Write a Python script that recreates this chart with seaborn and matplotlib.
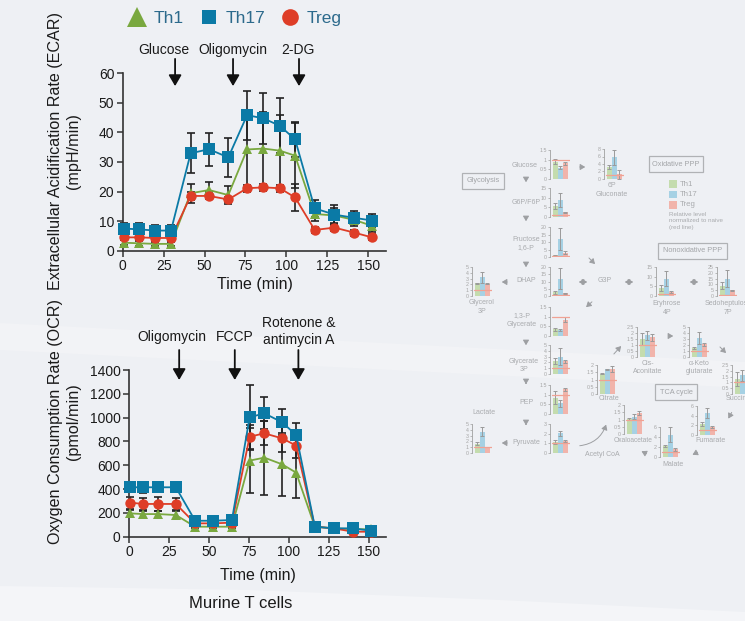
import matplotlib
matplotlib.use("Agg")
import matplotlib.pyplot as plt
import numpy as np
import pandas as pd
import seaborn as sns
from matplotlib.lines import Line2D
from matplotlib.patches import Polygon, FancyArrowPatch, Rectangle

# ---------------- data ----------------
cells = ["Th1", "Th17", "Treg"]

ecar_time = [0.5, 10, 20, 29.5, 41.5, 52.7, 64.5, 76, 86, 96, 105.3, 117.3, 129.3, 141.5, 152.3]
ecar_th1 = [2.7, 2.5, 2.3, 2.3, 19.4, 20.5, 18.8, 34.2, 34.5, 33.8, 32.1, 12.4, 11.9, 10.4, 8.4]
ecar_th1_err = [0.8, 0.8, 0.8, 0.8, 3.3, 2.8, 3.0, 13.0, 12.5, 12.0, 11.0, 2.5, 2.5, 2.0, 2.0]
ecar_th17 = [7.5, 7.2, 6.8, 6.8, 32.9, 34.3, 31.5, 45.8, 44.7, 42.2, 37.6, 14.3, 12.2, 11.1, 10.2]
ecar_th17_err = [2.0, 2.3, 2.0, 1.8, 6.8, 5.6, 6.5, 8.3, 8.5, 9.3, 6.0, 2.8, 3.2, 2.2, 2.2]
ecar_treg = [4.5, 4.5, 4.3, 4.3, 18.5, 18.5, 17.3, 21.1, 21.4, 21.1, 18.0, 7.0, 7.8, 6.1, 4.5]
ecar_treg_err = [1.0, 1.0, 1.0, 1.0, 1.5, 1.2, 1.0, 1.2, 1.2, 1.2, 4.7, 1.0, 1.0, 1.0, 1.0]

ocr_time = [0.5, 9, 18.4, 29.3, 41.4, 52.5, 64.4, 75.5, 84.7, 95.8, 104.6, 116.3, 128.2, 140.1, 151.7]
ocr_th1 = [196, 190, 190, 182, 84, 84, 84, 639, 664, 608, 538, 84, 70, 64, 62]
ocr_th1_err = [30, 30, 30, 30, 15, 15, 15, 275, 310, 263, 216, 10, 10, 10, 10]
ocr_th17 = [415, 415, 415, 415, 134, 134, 140, 1003, 1036, 961, 854, 84, 70, 70, 50]
ocr_th17_err = [40, 45, 30, 30, 15, 15, 15, 272, 135, 110, 98, 10, 10, 10, 10]
ocr_treg = [286, 275, 275, 275, 112, 112, 118, 840, 868, 826, 765, 84, 70, 42, 42]
ocr_treg_err = [50, 50, 55, 50, 15, 15, 15, 100, 100, 112, 100, 10, 10, 10, 10]

ecar_injections = ["Glucose", "Oligomycin", "2-DG"]
ecar_inject_time = [32, 67.4, 107.7]
ocr_injections = ["Oligomycin", "FCCP", "Rotenone &\nantimycin A"]
ocr_inject_time = [31.4, 66.2, 106]

x_ticks = [0, 25, 50, 75, 100, 125, 150]
ecar_ticks = [0, 10, 20, 30, 40, 50, 60]
ocr_ticks = [0, 200, 400, 600, 800, 1000, 1200, 1400]

metabolites = ["Glucose", "6P\nGluconate", "G6P/F6P", "Fructose\n1,6-P", "DHAP", "",
               "Glycerol\n3P", "Eryhrose\n4P", "Sedoheptulose\n7P", "1,3-P\nGlycerate",
               "Glycerate\n3P", "PEP", "Pyruvate", "Lactate", "Citrate", "Cis-\nAconitate",
               "α-Keto\nglutarate", "Succinate", "Fumarate", "Malate", "Oxaloacetate"]
met_th1 = [0.9, 3.2, 5.5, 1.2, 2.5, None, 2.2, 4.0, 9.0, 0.35, 2.2, 0.85, 1.15, 1.6, 1.4, 1.5, 1.5, 1.3, 2.3, 2.2, 1.05]
met_th17 = [0.58, 5.8, 8.8, 12.0, 12.0, None, 3.2, 9.0, 15.0, 0.32, 3.0, 0.55, 2.05, 3.7, 1.7, 1.8, 3.2, 1.6, 4.6, 4.5, 1.2]
met_treg = [0.82, 1.2, 2.5, 3.0, 1.8, None, 2.1, 2.2, 5.0, 0.85, 2.2, 1.28, 1.2, 1.1, 1.7, 1.65, 2.1, 0.7, 1.7, 1.6, 1.45]
met_th1_err = [0.15, 0.5, 1.5, 0.3, 1.0, None, 0.1, 1.5, 3.0, 0.08, 0.5, 0.35, 0.2, 0.3, 0.05, 0.5, 0.1, 0.6, 0.4, 0.2, 0.08]
met_th17_err = [0.07, 2.0, 3.5, 7.5, 7.0, None, 1.0, 4.0, 7.0, 0.05, 1.5, 0.2, 0.25, 0.8, 0.05, 0.35, 1.0, 0.5, 1.0, 1.5, 0.15]
met_treg_err = [0.08, 1.2, 0.3, 1.2, 0.6, None, 0.1, 0.4, 0.5, 0.15, 0.3, 0.08, 0.1, 0.0, 0.2, 0.3, 0.2, 0.0, 0.2, 0.3, 0.15]
met_ticks = [[0, 0.5, 1, 1.5], [0, 2, 4, 6, 8], [0, 5, 10, 15], [0, 5, 10, 15, 20], [0, 5, 10, 15, 20], None,
             [0, 1, 2, 3, 4, 5], [0, 5, 10, 15], [0, 5, 10, 15, 20, 25], [0, 0.5, 1, 1.5],
             [0, 1, 2, 3, 4, 5], [0, 0.5, 1, 1.5], [0, 1, 2, 3], [0, 1, 2, 3, 4, 5],
             [0, 0.5, 1, 1.5, 2], [0, 0.5, 1, 1.5, 2, 2.5], [0, 1, 2, 3, 4, 5],
             [0, 0.5, 1, 1.5, 2, 2.5], [0, 2, 4, 6], [0, 2, 4, 6], [0, 0.5, 1, 1.5, 2]]
pathway_boxes = ["Glycolysis", "Oxidative PPP", "Nonoxidative PPP", "TCA cycle"]
legend_note = "Relative level\nnormalized to naive\n(red line)"

# ---------------- style ----------------
W, H = 745, 621
sns.set_theme(style="ticks")
plt.rcParams["font.family"] = ["Liberation Sans", "DejaVu Sans"]
BG = "#eef0f4"
colors = {"Th1": "#79a83f", "Th17": "#0b7aa6", "Treg": "#de3d27"}
pale = {"Th1": "#c4dcae", "Th17": "#a6d1e4", "Treg": "#f1b4ab"}
markers = {"Th1": "^", "Th17": "s", "Treg": "o"}
msize = {"Th1": 7.8, "Th17": 8.0, "Treg": 7.5}
DARK = "#222222"

fig = plt.figure(figsize=(W / 100, H / 100), dpi=100, facecolor=BG)


def fx(px):
    return px / W


def fy(py):
    return 1 - py / H


# background bands (behind everything)
fig.patches.append(Polygon([(fx(0), fy(323)), (fx(745), fy(362)), (fx(745), fy(388)), (fx(0), fy(350))],
                           closed=True, transform=fig.transFigure, facecolor="#f2f3f6", edgecolor="none",
                           zorder=-5))
fig.patches.append(Polygon([(fx(0), fy(586)), (fx(250), fy(590)), (fx(500), fy(600)), (fx(745), fy(612)),
                            (fx(745), fy(621)), (fx(0), fy(621))],
                           closed=True, transform=fig.transFigure, facecolor="#f4f5f8", edgecolor="none",
                           zorder=-5))


def style_main(ax, yticks):
    ax.set_facecolor("none")
    sns.despine(ax=ax)
    for s in ["left", "bottom"]:
        ax.spines[s].set_color("#333333")
        ax.spines[s].set_linewidth(1.2)
    ax.set_xticks(x_ticks)
    ax.set_yticks(yticks)
    ax.tick_params(axis="both", direction="out", length=4, width=1.1, color="#333333",
                   labelsize=10, labelcolor="#1a1a1a", pad=2)
    ax.set_xlim(0, 161)
    ax.set_ylim(yticks[0], yticks[-1])
    ax.set_xlabel("Time (min)", fontsize=11.5, color="#1a1a1a", labelpad=2)


def draw_series(ax, t, series, errs):
    for c in ["Th1", "Treg", "Th17"]:
        ax.errorbar(t, series[c], yerr=errs[c], fmt="none", ecolor=DARK, elinewidth=1.2,
                    capsize=3, capthick=1.2, zorder=2, clip_on=False)
    for c in ["Th1", "Treg", "Th17"]:
        df = pd.DataFrame({"time": t, "value": series[c]})
        sns.lineplot(data=df, x="time", y="value", ax=ax, color=colors[c], marker=markers[c],
                     markersize=msize[c], markeredgewidth=0, linewidth=1.3, zorder=3,
                     clip_on=False, legend=False, estimator=None)


# ---------------- ECAR ----------------
ax1 = fig.add_axes([fx(122.7), fy(250.7), 161 * 1.637 / W, 177.6 / H])
style_main(ax1, ecar_ticks)
draw_series(ax1, ecar_time, {"Th1": ecar_th1, "Th17": ecar_th17, "Treg": ecar_treg},
            {"Th1": ecar_th1_err, "Th17": ecar_th17_err, "Treg": ecar_treg_err})
ax1.set_ylabel("Extracellular Acidification Rate (ECAR)\n(mpH/min)", fontsize=11.6,
               color="#1a1a1a", linespacing=1.25)
ax1.yaxis.set_label_coords(-0.158, 0.561)
ax1.xaxis.set_label_coords(0.5, -0.147)
ecar_text_x = [25.2, 67.4, 107]
for name, t, tx in zip(ecar_injections, ecar_inject_time, ecar_text_x):
    ax1.annotate("", xy=(t, 55.6), xytext=(t, 64.8), xycoords="data", annotation_clip=False,
                 arrowprops=dict(arrowstyle="-|>,head_length=0.55,head_width=0.32", mutation_scale=12,
                                 color="#111111", lw=1.3, shrinkA=0, shrinkB=0))
    ax1.text(tx, 67.9, name, ha="center", va="center", fontsize=10, color="#1a1a1a", clip_on=False)

# ---------------- OCR ----------------
ax2 = fig.add_axes([fx(129), fy(536.7), 161 * 1.598 / W, 166.7 / H])
style_main(ax2, ocr_ticks)
draw_series(ax2, ocr_time, {"Th1": ocr_th1, "Th17": ocr_th17, "Treg": ocr_treg},
            {"Th1": ocr_th1_err, "Th17": ocr_th17_err, "Treg": ocr_treg_err})
ax2.set_ylabel("Oxygen Consumption Rate (OCR)\n(pmol/min)", fontsize=11.6,
               color="#1a1a1a", linespacing=1.25)
ax2.yaxis.set_label_coords(-0.1866, 0.691)
ax2.xaxis.set_label_coords(0.5, -0.19)
ocr_text_x = [26.8, 66.4, 106]
ocr_text_y = [1677, 1677, 1723]
for name, t, tx, ty in zip(ocr_injections, ocr_inject_time, ocr_text_x, ocr_text_y):
    ax2.annotate("", xy=(t, 1316), xytext=(t, 1568), xycoords="data", annotation_clip=False,
                 arrowprops=dict(arrowstyle="-|>,head_length=0.55,head_width=0.32", mutation_scale=12,
                                 color="#111111", lw=1.3, shrinkA=0, shrinkB=0))
    ax2.text(tx, ty, name, ha="center", va="center", fontsize=10, color="#1a1a1a",
             linespacing=1.25, clip_on=False)

fig.text(fx(240.7), fy(603), "Murine T cells", ha="center", va="center", fontsize=12, color="#1a1a1a")

# ---------------- top legend ----------------
handles = [Line2D([], [], ls="none", marker="^", markersize=14.5, markeredgewidth=0, color=colors["Th1"]),
           Line2D([], [], ls="none", marker="s", markersize=10.5, markeredgewidth=0, color=colors["Th17"]),
           Line2D([], [], ls="none", marker="o", markersize=12, markeredgewidth=0, color=colors["Treg"])]
fig.legend(handles, cells, loc="center", bbox_to_anchor=(fx(235), fy(18)), ncol=3, frameon=False,
           fontsize=12.5, labelcolor="#2c6a8c", handlelength=1.0, handletextpad=0.45, columnspacing=0.95)

# ---------------- metabolic map (right) ----------------
# layout: spine x, top y, bottom y, label x, label y
layout = [(550, 150, 179, 525, 165), (604, 149, 179, 612, 190), (550, 188, 217, 526, 203),
          (550, 227, 257, 526, 243.5), (550, 267, 296, 526, 281), None,
          (472, 267, 296, 482, 307), (656, 267, 296, 667, 308), (717, 267, 296, 728, 308),
          (550, 307, 336, 522, 320), (550, 345, 374, 524, 365.5), (550, 385, 414, 526, 402),
          (550, 424, 453, 526, 443), (472, 424, 453, 484, 413), (597, 365, 394, 609, 399),
          (637, 327, 357, 648, 367.5), (689, 327, 357, 699, 367.5), (732, 365, 394, 741, 399),
          (697, 406, 435, 710, 440), (660, 427, 457, 673, 464), (624, 405, 434, 633, 440)]
LG = "#a9abae"
for i, name in enumerate(metabolites):
    if layout[i] is None:
        continue
    sx, ty, by, lx, ly = layout[i]
    if met_th1[i] is not None:
        axm = fig.add_axes([fx(sx), fy(by), 20.4 / W, (by - ty) / H])
        axm.set_facecolor("none")
        vals = [met_th1[i], met_th17[i], met_treg[i]]
        errs = [met_th1_err[i], met_th17_err[i], met_treg_err[i]]
        dfm = pd.DataFrame({"cell": cells, "value": vals})
        sns.barplot(data=dfm, x="cell", y="value", hue="cell", palette=pale, ax=axm, width=1.0,
                    legend=False, errorbar=None, saturation=1, linewidth=0)
        axm.errorbar([0, 1, 2], vals, yerr=errs, fmt="none", ecolor="#9a9a9a", elinewidth=0.7,
                     capsize=1.2, capthick=0.7)
        axm.axhline(1, xmin=0.12, xmax=0.97, color="#f0a294", lw=0.9)
        axm.set_xlim(-1.0, 3.0)
        axm.set_ylim(met_ticks[i][0], met_ticks[i][-1])
        axm.set_yticks(met_ticks[i])
        axm.set_yticklabels([("%g" % v) for v in met_ticks[i]])
        axm.set_xticks([])
        axm.set_xlabel("")
        axm.set_ylabel("")
        for s in ["top", "right", "bottom"]:
            axm.spines[s].set_visible(False)
        axm.spines["left"].set_color("#a0a0a0")
        axm.spines["left"].set_linewidth(0.6)
        axm.tick_params(axis="y", length=1.5, width=0.5, color="#a0a0a0", labelsize=3.8,
                        labelcolor="#a5a5a5", pad=0.8)
    fs = 4.8 if name == "Oxaloacetate" else 5.0
    fig.text(fx(lx), fy(ly), name, ha="center", va="center", fontsize=fs, color=LG, linespacing=1.3)

fig.text(fx(605), fy(281), "G3P", ha="center", va="center", fontsize=5.0, color=LG)
fig.text(fx(602), fy(454), "Acetyl CoA", ha="center", va="center", fontsize=5.0, color=LG)

box_pos = [(462, 173, 504, 189), (649, 156, 703, 172), (658, 243, 727, 259), (655, 384, 697, 400)]
for name, (x0, y0, x1, y1) in zip(pathway_boxes, box_pos):
    fig.patches.append(Rectangle((fx(x0), fy(y1)), fx(x1) - fx(x0), fy(y0) - fy(y1),
                                 transform=fig.transFigure, facecolor="none", edgecolor="#b0b2b5", lw=0.9))
    fig.text(fx((x0 + x1) / 2), fy((y0 + y1) / 2), name, ha="center", va="center",
             fontsize=5.3, color="#a3a5a8")

# diagram legend
for k, (c, yy) in enumerate(zip(cells, [184, 194.5, 205])):
    fig.patches.append(Rectangle((fx(669), fy(yy + 3.8)), 7.6 / W, 7.6 / H, transform=fig.transFigure,
                                 facecolor=pale[c], edgecolor="none"))
    fig.text(fx(680), fy(yy), c, ha="left", va="center", fontsize=5.6, color=LG)
fig.text(fx(669), fy(212), legend_note, ha="left", va="top", fontsize=4.5, color=LG, linespacing=1.35)

# arrows
arrow_segs = [((577, 167), (588, 167)), ((526, 177), (526, 185)), ((526, 216), (526, 224)),
              ((526, 262), (526, 270)), ((510, 282), (499, 282)), ((587, 256), (597, 266)),
              ((594, 300), (584, 309)), ((526, 340), (526, 348)), ((526, 380), (526, 387)),
              ((526, 421), (526, 428)), ((510, 443), (499, 443)), ((612, 356), (623, 344)),
              ((666, 336), (676, 336)), ((718, 345), (728, 355)), ((733, 410), (727, 421)),
              ((700, 451), (690, 456)), ((649, 455), (639, 450))]
for (a, b) in arrow_segs:
    fig.patches.append(FancyArrowPatch((fx(a[0]), fy(a[1])), (fx(b[0]), fy(b[1])),
                                       transform=fig.transFigure, arrowstyle="-|>,head_length=0.5,head_width=0.3",
                                       mutation_scale=6, color="#9d9fa2", lw=0.7))
for (a, b) in [((576, 282), (590, 282)), ((622, 282), (636, 282)), ((687, 282), (701, 282))]:
    fig.patches.append(FancyArrowPatch((fx(a[0]), fy(a[1])), (fx(b[0]), fy(b[1])),
                                       transform=fig.transFigure, arrowstyle="<|-|>,head_length=0.5,head_width=0.3",
                                       mutation_scale=6, color="#9d9fa2", lw=0.7))
fig.patches.append(FancyArrowPatch((fx(577), fy(446)), (fx(607), fy(422)), transform=fig.transFigure,
                                   connectionstyle="arc3,rad=0.35",
                                   arrowstyle="-|>,head_length=0.5,head_width=0.3",
                                   mutation_scale=6, color="#9d9fa2", lw=0.7))

fig.savefig("out.png", dpi=100, facecolor=BG)
